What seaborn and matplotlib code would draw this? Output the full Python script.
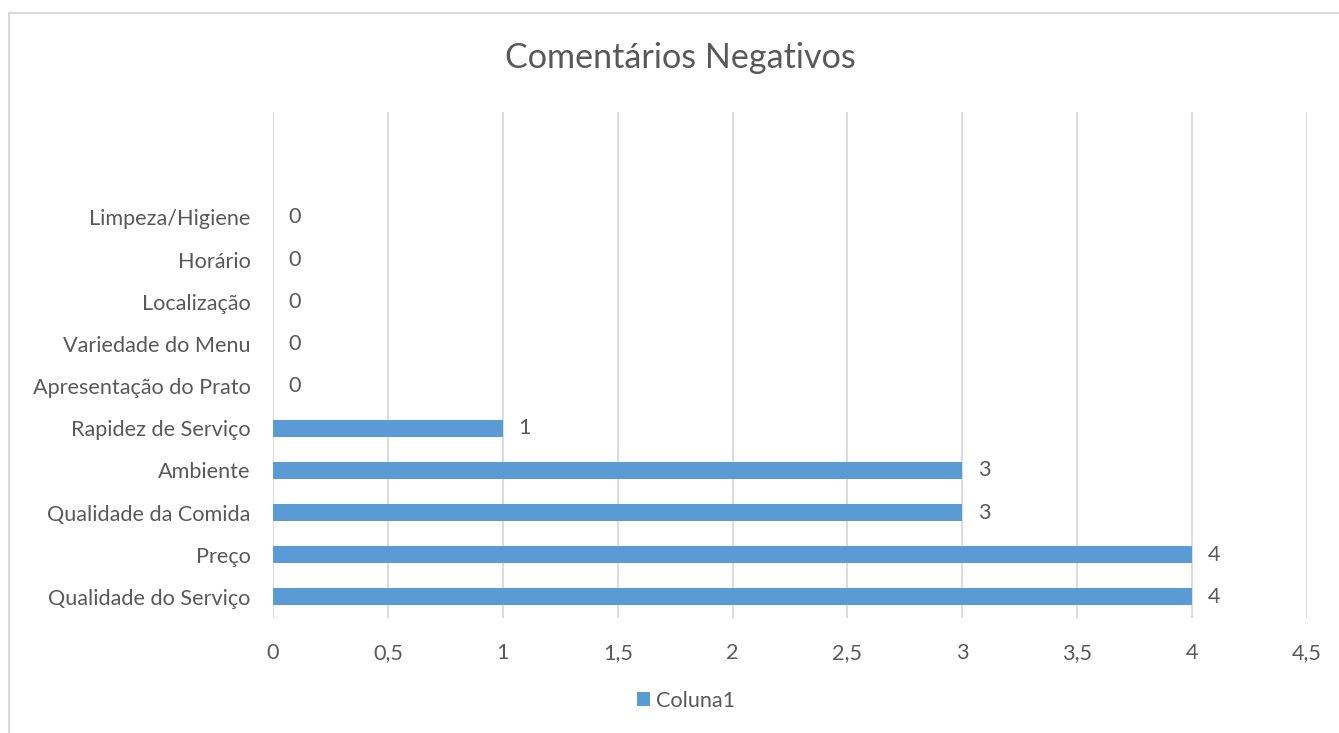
import matplotlib
matplotlib.use("Agg")
import matplotlib.pyplot as plt
from matplotlib.patches import Rectangle, Patch
from matplotlib.ticker import FixedLocator
import seaborn as sns
import pandas as pd

categories = [
    "Limpeza/Higiene",
    "Horário",
    "Localização",
    "Variedade do Menu",
    "Apresentação do Prato",
    "Rapidez de Serviço",
    "Ambiente",
    "Qualidade da Comida",
    "Preço",
    "Qualidade do Serviço",
]
values = [0, 0, 0, 0, 0, 1, 3, 3, 4, 4]
x_ticks = [0, 0.5, 1, 1.5, 2, 2.5, 3, 3.5, 4, 4.5]
series_name = "Coluna1"
title = "Comentários Negativos"

BAR = "#5B9BD5"
TEXT = "#595959"
GRID = "#D9D9D9"
FS = 15.6

sns.set_theme(style="white")
plt.rcParams["font.family"] = ["Lato", "DejaVu Sans"]

df = pd.DataFrame({"categoria": categories, "valor": values})

fig = plt.figure(figsize=(13.39, 7.33), dpi=100)
ax = fig.add_axes([273 / 1339, 1 - 618 / 733, (1307 - 273) / 1339, (618 - 112) / 733])

sns.barplot(data=df, x="valor", y="categoria", order=categories, color=BAR,
            width=0.4, saturation=1, linewidth=0, ax=ax, orient="h", zorder=3)

ax.set_xlim(0, 4.5)
ax.set_ylim(len(categories) - 0.5, -2.5)
ax.xaxis.set_major_locator(FixedLocator(x_ticks))
ax.set_xticklabels([f"{t:g}".replace(".", ",") for t in x_ticks])
ax.grid(axis="x", color=GRID, linewidth=1.3, zorder=0)
ax.grid(axis="y", visible=False)
for s in ax.spines.values():
    s.set_visible(False)
ax.set_xlabel("")
ax.set_ylabel("")
ax.tick_params(axis="both", length=0, labelsize=FS, colors=TEXT)
ax.tick_params(axis="x", pad=18)
ax.tick_params(axis="y", pad=16)

ax.bar_label(ax.containers[0], labels=[str(v) for v in values], padding=11,
             fontsize=FS, color=TEXT)

fig.text(680 / 1339, 1 - 58 / 733, title, ha="center", va="center",
         fontsize=24.6, color=TEXT)

handle = Patch(facecolor=BAR, edgecolor="none")
fig.legend([handle], [series_name], loc="center", bbox_to_anchor=(686 / 1339, 1 - 701 / 733),
           frameon=False, fontsize=FS, labelcolor=TEXT, handlelength=0.6,
           handleheight=0.6, handletextpad=0.3)

fig.patches.append(Rectangle((9 / 1339, -0.05), 1.1, 1 - 13 / 733 + 0.05,
                             transform=fig.transFigure, fill=False,
                             edgecolor=GRID, linewidth=1.5))

fig.savefig("out.png", dpi=100, facecolor="white")
